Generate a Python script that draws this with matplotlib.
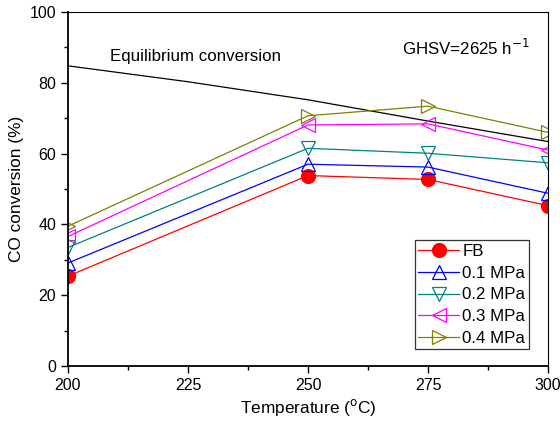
import numpy as np
import matplotlib
matplotlib.use("Agg")
import matplotlib.pyplot as plt
from matplotlib.ticker import MultipleLocator

plt.rcParams['font.family'] = ['Liberation Sans', 'DejaVu Sans']

temperature = [200, 250, 275, 300]
fb = [25.4, 53.8, 52.7, 45.3]
p01 = [29.1, 57.0, 56.2, 48.8]
p02 = [33.5, 61.5, 60.1, 57.4]
p03 = [36.6, 68.1, 68.4, 61.0]
p04 = [39.5, 70.7, 73.4, 66.0]

eq_temperature = [200, 225, 250, 275, 300]
eq_conversion = [84.8, 80.3, 75.2, 69.2, 63.4]

fig = plt.figure(figsize=(5.6, 4.26), dpi=100)
ax = fig.add_axes([0.1214, 0.1408, 0.8572, 0.831])

ax.plot(eq_temperature, eq_conversion, color="black", lw=0.9)

series = [
    (fb, "FB", "red", "o", "red"),
    (p01, "0.1 MPa", "blue", "^", "none"),
    (p02, "0.2 MPa", "#008080", "v", "none"),
    (p03, "0.3 MPa", "magenta", "<", "none"),
    (p04, "0.4 MPa", "#808000", ">", "none"),
]
for vals, label, color, marker, face in series:
    ax.plot(temperature, vals, color=color, lw=0.9, marker=marker,
            markersize=10, markerfacecolor=face, markeredgecolor=color,
            markeredgewidth=0.9, label=label)

ax.set_xlim(200, 300)
ax.set_ylim(0, 100)
ax.xaxis.set_major_locator(MultipleLocator(25))
ax.xaxis.set_minor_locator(MultipleLocator(12.5))
ax.yaxis.set_major_locator(MultipleLocator(20))
ax.yaxis.set_minor_locator(MultipleLocator(10))
ax.tick_params(which="both", direction="out", top=False, right=False,
               labelsize=11.5, width=1.0)
ax.tick_params(which="major", length=5)
ax.tick_params(which="minor", length=3)
for side in ["left", "bottom"]:
    ax.spines[side].set_linewidth(1.3)

ax.set_xlabel("Temperature ($^{\\mathrm{o}}$C)", fontsize=12.4, labelpad=3)
ax.set_ylabel("CO conversion (%)", fontsize=12.4)

ax.text(208.8, 87.3, "Equilibrium conversion", fontsize=12.2, va="center")
ax.text(269.5, 89.8, "GHSV=2625 h$^{\\mathrm{-1}}$", fontsize=12.2, va="center")

leg = ax.legend(loc="lower right", bbox_to_anchor=(0.96, 0.047),
                fontsize=12.2, frameon=True, fancybox=False,
                edgecolor="black", borderpad=0.2, labelspacing=0.4,
                handlelength=2.4, handletextpad=0.2, borderaxespad=0)
leg.get_frame().set_linewidth(0.9)

fig.savefig("out.png", dpi=100)
